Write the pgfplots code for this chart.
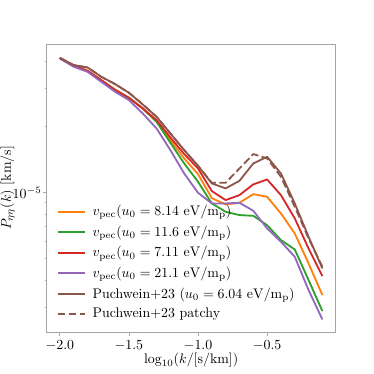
\documentclass[border=0pt]{standalone}
\usepackage{pgfplots}
\pgfplotsset{compat=1.18}
\definecolor{cOrange}{HTML}{FF7F0E}
\definecolor{cGreen}{HTML}{2CA02C}
\definecolor{cRed}{HTML}{D62728}
\definecolor{cPurple}{HTML}{9467BD}
\definecolor{cBrown}{HTML}{8C564B}
\begin{document}
\begin{tikzpicture}
\path[use as bounding box] (-33.6pt,-30.2pt) rectangle (235.4pt,239.1pt);
\begin{axis}[
  at={(0,0)}, anchor=south west,
  scale only axis, width=208pt, height=207.4pt,
  ymode=log,
  xmin=-2.095, xmax=-0.005, ymin=2.312e-6, ymax=4.776e-5,
  xtick={-2.0,-1.5,-1.0,-0.5},
  xticklabels={$-2.0$,$-1.5$,$-1.0$,$-0.5$},
  ytick={1e-5},
  yticklabels={$10^{-5}$},
  minor ytick={3e-6,4e-6,5e-6,6e-6,7e-6,8e-6,9e-6,2e-5,3e-5,4e-5},
  xtick pos=bottom, ytick pos=left,
  tick align=outside,
  major tick length=2.5pt, minor tick length=1.5pt,
  every tick/.style={gray!70, line width=0.5pt},
  axis line style={gray!70, line width=0.7pt},
  yticklabel style={inner xsep=0pt, xshift=-1pt},
  xlabel={$\log_{10}(k/[\mathrm{s/km}])$},
  ylabel={$P_{\eta\eta}(k)$ [km/s]},
  xlabel style={yshift=5pt},
  every axis y label/.style={at={(axis description cs:-0.135,0.5)}, rotate=90, anchor=center},
  legend cell align=left,
  legend style={draw=none, fill=none, at={(0.02,0.46)}, anchor=north west,
    row sep=1.8pt, column sep=3pt, font=\normalsize},
  legend image code/.code={\draw[#1] (0pt,0pt) -- (19.4pt,0pt);},
  every axis plot/.append style={line width=1.3pt, line join=round},
]
\addplot[cOrange] coordinates {
(-2.0,4.12e-5) (-1.9,3.802e-5) (-1.8,3.607e-5) (-1.7,3.269e-5) (-1.6,2.964e-5)
(-1.5,2.715e-5) (-1.4,2.427e-5) (-1.3,2.110e-5) (-1.2,1.740e-5) (-1.1,1.435e-5)
(-1.0,1.217e-5) (-0.9,0.945e-5) (-0.8,0.8845e-5) (-0.7,0.9001e-5) (-0.6,0.986e-5)
(-0.5,0.9588e-5) (-0.4,0.8048e-5) (-0.3,0.6521e-5) (-0.2,0.4757e-5) (-0.1,0.3409e-5)};
\addlegendentry{$v_{\mathrm{pec}}(u_0 = 8.14~\mathrm{eV}/\mathrm{m_p})$}
\addplot[cGreen] coordinates {
(-2.0,4.12e-5) (-1.9,3.802e-5) (-1.8,3.594e-5) (-1.7,3.269e-5) (-1.6,2.943e-5)
(-1.5,2.715e-5) (-1.4,2.427e-5) (-1.3,2.110e-5) (-1.2,1.692e-5) (-1.1,1.361e-5)
(-1.0,1.123e-5) (-0.9,0.894e-5) (-0.8,0.819e-5) (-0.7,0.7909e-5) (-0.6,0.7852e-5)
(-0.5,0.7114e-5) (-0.4,0.608e-5) (-0.3,0.551e-5) (-0.2,0.3993e-5) (-0.1,0.2882e-5)};
\addlegendentry{$v_{\mathrm{pec}}(u_0 = 11.6~\mathrm{eV}/\mathrm{m_p})$}
\addplot[cRed] coordinates {
(-2.0,4.12e-5) (-1.9,3.802e-5) (-1.8,3.607e-5) (-1.7,3.269e-5) (-1.6,2.943e-5)
(-1.5,2.715e-5) (-1.4,2.427e-5) (-1.3,2.147e-5) (-1.2,1.789e-5) (-1.1,1.502e-5)
(-1.0,1.291e-5) (-0.9,1.018e-5) (-0.8,0.9259e-5) (-0.7,0.9758e-5) (-0.6,1.092e-5)
(-0.5,1.150e-5) (-0.4,0.9758e-5) (-0.3,0.7636e-5) (-0.2,0.5568e-5) (-0.1,0.4164e-5)};
\addlegendentry{$v_{\mathrm{pec}}(u_0 = 7.11~\mathrm{eV}/\mathrm{m_p})$}
\addplot[cPurple] coordinates {
(-2.0,4.10e-5) (-1.9,3.762e-5) (-1.8,3.569e-5) (-1.7,3.212e-5) (-1.6,2.892e-5)
(-1.5,2.649e-5) (-1.4,2.303e-5) (-1.3,1.967e-5) (-1.2,1.566e-5) (-1.1,1.225e-5)
(-1.0,1.0e-5) (-0.9,0.894e-5) (-0.8,0.894e-5) (-0.7,0.9001e-5) (-0.6,0.8276e-5)
(-0.5,0.6873e-5) (-0.4,0.5974e-5) (-0.3,0.5103e-5) (-0.2,0.3593e-5) (-0.1,0.264e-5)};
\addlegendentry{$v_{\mathrm{pec}}(u_0 = 21.1~\mathrm{eV}/\mathrm{m_p})$}
\addplot[cBrown] coordinates {
(-2.0,4.133e-5) (-1.9,3.828e-5) (-1.8,3.735e-5) (-1.7,3.385e-5) (-1.6,3.135e-5)
(-1.5,2.862e-5) (-1.4,2.531e-5) (-1.3,2.223e-5) (-1.2,1.866e-5) (-1.1,1.566e-5)
(-1.0,1.328e-5) (-0.9,1.103e-5) (-0.8,1.047e-5) (-0.7,1.134e-5) (-0.6,1.361e-5)
(-0.5,1.460e-5) (-0.4,1.225e-5) (-0.3,0.894e-5) (-0.2,0.6296e-5) (-0.1,0.4514e-5)};
\addlegendentry{Puchwein+23 ($u_0 = 6.04~\mathrm{eV}/\mathrm{m_p}$)}
\addplot[cBrown, dash pattern=on 5.5pt off 2.4pt] coordinates {
(-2.0,4.133e-5) (-1.9,3.828e-5) (-1.8,3.735e-5) (-1.7,3.385e-5) (-1.6,3.135e-5)
(-1.5,2.862e-5) (-1.4,2.531e-5) (-1.3,2.223e-5) (-1.2,1.866e-5) (-1.1,1.566e-5)
(-1.0,1.328e-5) (-0.9,1.111e-5) (-0.8,1.111e-5) (-0.7,1.291e-5) (-0.6,1.502e-5)
(-0.5,1.435e-5) (-0.4,1.183e-5) (-0.3,0.8633e-5) (-0.2,0.6187e-5) (-0.1,0.4593e-5)};
\addlegendentry{Puchwein+23 patchy}
\end{axis}
\end{tikzpicture}
\end{document}
